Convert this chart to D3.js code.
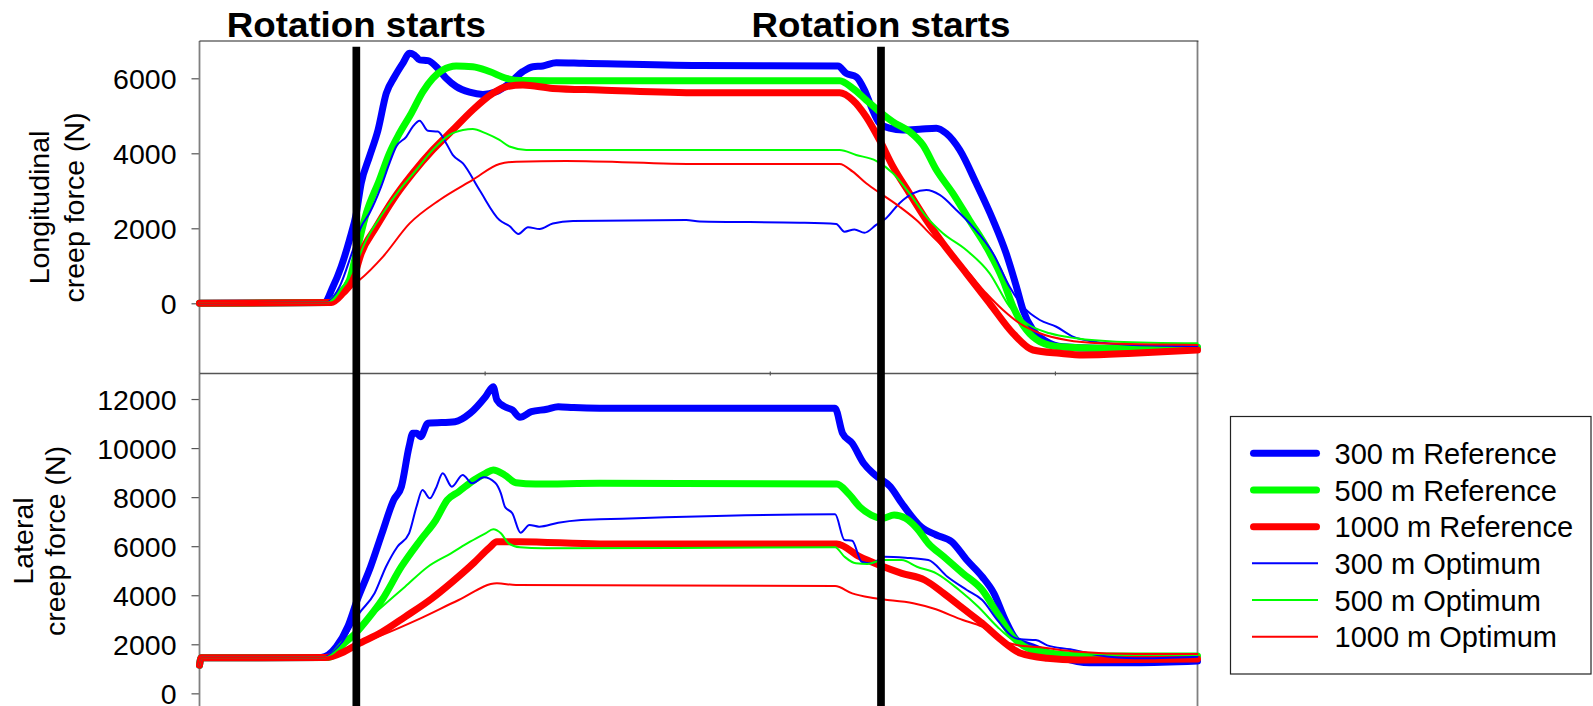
<!DOCTYPE html>
<html>
<head>
<meta charset="utf-8">
<script src="https://cdn.jsdelivr.net/npm/d3@7"></script>
<style>
  html, body { margin: 0; padding: 0; background: #fff; }
  svg { display: block; font-family: "Liberation Sans", Arial, sans-serif; }
</style>
</head>
<body>
<svg id="chart" width="1593" height="706"></svg>
<script>
// ---- Data: creep forces (N) against position along the run ----
const seriesNames = ["300 m Reference", "500 m Reference", "1000 m Reference",
                     "300 m Optimum", "500 m Optimum", "1000 m Optimum"];
const seriesColors = ["#0000ff", "#00ff00", "#ff0000", "#0000ff", "#00ff00", "#ff0000"];
const seriesThick = [true, true, true, false, false, false];
const rotationStarts = [5.5, 23.9];
const longTicks = [0, 2000, 4000, 6000];
const latTicks = [0, 2000, 4000, 6000, 8000, 10000, 12000];
const xTicks = [10, 20, 30];

// Longitudinal creep force
const long300Ref = [[0,0],[4.38,20],[4.68,440],[4.97,980],[5.26,1690],[5.5,2400],[5.67,3200],[5.96,3910],[6.26,4620],[6.55,5600],[6.84,6040],[7.13,6400],[7.37,6670],[7.54,6620],[7.72,6490],[8.01,6470],[8.3,6310],[8.65,6000],[9.0,5780],[9.47,5630],[9.94,5570],[10.4,5640],[10.87,5870],[11.34,6180],[11.69,6310],[12.04,6330],[12.51,6415],[13.45,6400],[17.54,6340],[22.39,6330],[22.68,6130],[23.03,6040],[23.32,5690],[23.56,5240],[23.85,4800],[24.2,4670],[24.67,4620],[25.25,4640],[25.84,4670],[26.19,4530],[26.66,4090],[27.24,3200],[27.83,2220],[28.29,1330],[28.65,440],[28.88,-180],[29.23,-710],[29.7,-1020],[30.28,-1160],[31.5,-1200],[35,-1190]];
const long500Ref = [[0,0],[4.56,20],[4.91,270],[5.26,620],[5.55,1510],[5.85,2400],[6.31,3290],[6.66,4000],[7.01,4530],[7.43,5070],[7.83,5640],[8.18,6000],[8.53,6220],[9.0,6330],[9.58,6310],[10.17,6180],[10.76,6000],[11.22,5940],[12.28,5936],[22.45,5936],[22.91,5730],[23.38,5420],[23.85,5110],[24.32,4840],[24.9,4580],[25.37,4220],[25.84,3560],[26.42,2930],[27.0,2220],[27.59,1510],[28.18,620],[28.53,-90],[29.0,-710],[29.47,-1020],[30.17,-1160],[31.57,-1200],[35,-1170]];
const long1000Ref = [[0,0],[4.62,20],[5.03,270],[5.38,620],[5.67,1330],[6.2,2040],[6.78,2755],[7.48,3470],[8.18,4090],[8.88,4620],[9.58,5155],[10.29,5600],[10.76,5776],[11.34,5820],[12.39,5730],[14.03,5690],[17.54,5616],[22.45,5616],[22.91,5420],[23.38,4976],[23.85,4355],[24.32,3643],[24.9,2933],[25.49,2221],[26.07,1600],[26.89,800],[27.71,0],[28.53,-800],[29.23,-1245],[30.17,-1333],[30.98,-1379],[32.74,-1333],[35,-1245]];
const long300Opt = [[0,0],[4.44,20],[4.91,440],[5.38,1420],[5.67,2040],[5.96,2400],[6.37,3110],[6.66,3730],[6.9,4180],[7.25,4440],[7.48,4710],[7.72,4870],[8.01,4600],[8.36,4580],[8.65,4270],[8.88,3960],[9.24,3730],[9.82,3020],[10.52,2220],[10.87,2060],[11.19,1850],[11.52,2030],[11.93,1980],[12.39,2130],[13.1,2195],[17.07,2220],[17.54,2180],[21.05,2150],[22.33,2115],[22.62,1910],[22.97,1970],[23.32,1880],[23.73,2090],[24.08,2270],[24.55,2670],[25.02,2930],[25.49,3020],[25.96,2890],[26.54,2490],[27.12,2040],[27.83,1330],[28.41,440],[28.88,-90],[29.47,-445],[30.05,-625],[30.63,-890],[31.33,-1020],[32.74,-1110],[35,-1140]];
const long500Opt = [[0,0],[4.5,20],[5.03,440],[5.44,980],[5.85,1690],[6.43,2400],[7.01,3020],[7.6,3555],[8.18,4090],[8.77,4490],[9.24,4620],[9.58,4650],[10.05,4530],[10.52,4355],[10.87,4180],[11.46,4090],[22.45,4088],[23.03,3955],[23.73,3800],[24.32,3467],[24.9,2933],[25.49,2310],[26.07,1867],[26.89,1421],[27.71,800],[28.41,-90],[29.0,-533],[29.82,-800],[30.75,-933],[32.16,-1024],[35,-1067]];
const long1000Opt = [[0,0],[4.62,20],[5.15,355],[5.61,620],[6.43,1240],[7.37,2130],[8.42,2755],[9.58,3290],[10.52,3715],[11.11,3776],[12.86,3795],[17.54,3715],[22.45,3715],[22.91,3510],[23.38,3200],[23.96,2890],[24.55,2576],[25.14,2220],[25.72,1776],[26.31,1333],[26.89,888],[27.59,267],[28.18,-180],[28.76,-533],[29.47,-800],[30.4,-980],[31.57,-1067],[35,-1112]];

// Lateral creep force
const lat300Ref = [[0,1150],[0.06,1450],[4.26,1460],[4.8,1900],[5.2,2716],[5.53,3805],[6.0,5163],[6.4,6525],[6.81,7883],[7.08,8426],[7.35,10057],[7.48,10604],[7.62,10600],[7.75,10465],[8.01,11011],[8.96,11077],[9.49,11419],[10.03,12096],[10.3,12504],[10.43,11962],[10.7,11690],[10.97,11554],[11.24,11256],[11.64,11485],[12.18,11582],[12.58,11690],[13.12,11650],[14.03,11623],[22.29,11623],[22.55,10604],[22.89,10196],[23.29,9380],[23.69,8903],[24.23,8426],[24.63,7749],[25.3,6795],[25.84,6456],[26.38,6183],[26.91,5436],[27.45,4755],[27.86,4078],[28.26,2990],[28.66,2174],[29.2,1900],[30.14,1493],[31.21,1248],[32.83,1248],[35,1317]];
const lat500Ref = [[0,1150],[0.06,1450],[4.52,1460],[5.07,2040],[5.47,2447],[5.87,2990],[6.4,3805],[7.08,5163],[7.75,6252],[8.29,7068],[8.69,7883],[9.09,8222],[9.63,8699],[10.03,8972],[10.3,9107],[10.7,8903],[11.1,8589],[11.78,8536],[14.03,8565],[22.35,8536],[22.75,8157],[23.15,7610],[23.56,7271],[23.96,7137],[24.36,7271],[24.76,7137],[25.16,6729],[25.56,6117],[26.1,5571],[26.77,4894],[27.45,4213],[27.98,3263],[28.52,2308],[29.06,1835],[30.14,1562],[31.48,1521],[35,1521]];
const lat1000Ref = [[0,1150],[0.06,1450],[4.4,1460],[5.07,1697],[5.53,1990],[6.4,2500],[7.21,3120],[8.15,3870],[8.82,4500],[9.63,5330],[10.16,5930],[10.43,6183],[11.24,6183],[14.03,6089],[22.35,6089],[23.15,5571],[23.83,5232],[24.63,4894],[25.43,4621],[26.1,4078],[26.77,3467],[27.45,2855],[28.12,2174],[28.8,1631],[29.73,1427],[30.81,1358],[35,1400]];
const lat300Opt = [[0,1150],[0.06,1450],[4.3,1460],[4.93,1970],[5.6,3263],[6.14,4078],[6.54,5163],[6.94,5979],[7.35,6525],[7.61,7610],[7.82,8291],[8.08,7952],[8.29,8361],[8.53,8972],[8.85,8426],[9.23,8903],[9.56,8565],[9.97,8809],[10.37,8589],[10.57,8157],[10.71,7610],[10.97,7341],[11.26,6550],[11.57,6864],[11.91,6795],[12.58,6958],[13.39,7068],[14.03,7096],[22.29,7300],[22.62,6252],[22.89,6224],[23.22,5367],[23.56,5300],[24.03,5571],[24.76,5530],[25.56,5436],[26.23,4755],[26.91,4213],[27.45,3805],[27.98,2990],[28.52,2308],[28.8,2202],[29.33,2174],[29.73,1958],[30.54,1794],[31.48,1562],[32.83,1427],[35,1493]];
const lat500Opt = [[0,1150],[0.06,1450],[4.4,1460],[5.07,2040],[5.74,2855],[6.4,3532],[7.21,4348],[8.01,5163],[8.82,5710],[9.49,6183],[10.03,6525],[10.3,6688],[10.57,6525],[10.84,6117],[11.24,5954],[12.04,5913],[22.29,5954],[22.62,5571],[23.02,5300],[23.42,5273],[23.96,5436],[24.63,5436],[25.16,5163],[25.84,4894],[26.64,4213],[27.31,3532],[27.98,2716],[28.52,2174],[29.2,1900],[30.14,1697],[31.48,1603],[35,1562]];
const lat1000Opt = [[0,1150],[0.06,1450],[4.4,1460],[5.46,1970],[6.4,2378],[7.75,3059],[9.09,3805],[10.43,4486],[11.1,4417],[22.29,4376],[22.89,4078],[23.69,3874],[25.03,3670],[25.71,3467],[26.77,2990],[27.45,2716],[28.12,2174],[28.66,1970],[29.47,1876],[30.81,1697],[32.83,1603],[35,1603]];

const longSeries = [long300Ref, long500Ref, long1000Ref, long300Opt, long500Opt, long1000Opt];
const latSeries = [lat300Ref, lat500Ref, lat1000Ref, lat300Opt, lat500Opt, lat1000Opt];

// ---- Layout ----
const svg = d3.select("#chart");
const FONT = 28.5;
const left = 199.5, right = 1197.5;
const topPanel = { top: 41, bottom: 373.5 };
const botPanel = { top: 373.5, bottom: 706 };

const x = d3.scaleLinear().domain([0, 35]).range([left, right]);
const yLong = d3.scaleLinear().domain([-2000, 7000]).range([378.3, 40.8]);
const yLat = d3.scaleLinear().domain([-2000, 13000]).range([742.4, 374.5]);

svg.append("rect").attr("width", 1593).attr("height", 706).attr("fill", "#fff");

function drawPanel(panel, y, ticks, data, labelLines, labelCenterY, labelBaselines) {
  const g = svg.append("g");
  // right side of the plot frame
  g.append("line").attr("x1", right).attr("x2", right)
    .attr("y1", panel.top).attr("y2", panel.bottom)
    .attr("stroke", "#808080").attr("stroke-width", 1.8);

  // y axis
  const axis = d3.axisLeft(y).tickValues(ticks).tickSizeInner(8).tickSizeOuter(0)
    .tickPadding(15).tickFormat(d3.format("d"));
  const ag = g.append("g").attr("transform", `translate(${left},0)`).call(axis);
  ag.select(".domain").remove();
  ag.append("line").attr("x1", 0).attr("x2", 0)
    .attr("y1", panel.top).attr("y2", panel.bottom)
    .attr("stroke", "#808080").attr("stroke-width", 1.8);
  ag.selectAll(".tick line").attr("stroke", "#555").attr("stroke-width", 1.2);
  ag.selectAll(".tick text")
    .attr("font-size", FONT).attr("fill", "#000")
    .attr("font-family", "'Liberation Sans', Arial, sans-serif")
    .attr("dy", "0.37em");

  // y axis title, rotated, two lines
  const t = g.append("text")
    .attr("transform", `translate(0,${labelCenterY}) rotate(-90)`)
    .attr("text-anchor", "middle").attr("font-size", FONT).attr("fill", "#000");
  labelLines.forEach((s, i) => {
    t.append("tspan").attr("x", 0).attr("y", labelBaselines[i]).text(s);
  });

  // series
  const line = d3.line().x(d => x(d[0])).y(d => y(d[1])).curve(d3.curveMonotoneX);
  data.forEach((pts, i) => {
    g.append("path").datum(pts).attr("d", line)
      .attr("fill", "none")
      .attr("stroke", seriesColors[i])
      .attr("stroke-width", seriesThick[i] ? 7 : 2)
      .attr("stroke-linecap", "round")
      .attr("stroke-linejoin", "round");
  });
  return g;
}

drawPanel(topPanel, yLong, longTicks, longSeries,
  ["Longitudinal", "creep force (N)"], 207.5, [49, 84]);
drawPanel(botPanel, yLat, latTicks, latSeries,
  ["Lateral", "creep force (N)"], 541, [33.4, 64.5]);

// top border and panel separator
svg.append("line").attr("x1", left).attr("x2", right + 0.9)
  .attr("y1", topPanel.top).attr("y2", topPanel.top)
  .attr("stroke", "#222").attr("stroke-width", 1.2);
svg.append("line").attr("x1", left).attr("x2", right + 0.9)
  .attr("y1", topPanel.bottom).attr("y2", topPanel.bottom)
  .attr("stroke", "#555").attr("stroke-width", 1.5);

// category ticks on the separator
const xAxis = d3.axisBottom(x).tickValues(xTicks).tickSize(4).tickFormat("");
const xg = svg.append("g").attr("transform", `translate(0,${topPanel.bottom - 2})`).call(xAxis);
xg.select(".domain").remove();
xg.selectAll(".tick line").attr("stroke", "#555").attr("stroke-width", 1.2);

// rotation start markers
rotationStarts.forEach(r => {
  svg.append("line").attr("x1", x(r)).attr("x2", x(r))
    .attr("y1", 46.7).attr("y2", 720)
    .attr("stroke", "#000").attr("stroke-width", 7.7);
  svg.append("text").attr("x", x(r)).attr("y", 37.3)
    .attr("text-anchor", "middle").attr("font-size", 35).attr("font-weight", "bold")
    .attr("textLength", 259).attr("lengthAdjust", "spacingAndGlyphs")
    .attr("fill", "#000").text("Rotation starts");
});

// legend
const lg = svg.append("g");
lg.append("rect").attr("x", 1230.5).attr("y", 416.5).attr("width", 360.5).attr("height", 257.5)
  .attr("fill", "#fff").attr("stroke", "#222").attr("stroke-width", 1.2);
seriesNames.forEach((name, i) => {
  const yy = 453.3 + i * 36.67;
  const thick = seriesThick[i];
  lg.append("line")
    .attr("x1", thick ? 1253.5 : 1252).attr("x2", thick ? 1316.5 : 1318)
    .attr("y1", yy).attr("y2", yy)
    .attr("stroke", seriesColors[i]).attr("stroke-width", thick ? 7 : 2)
    .attr("stroke-linecap", thick ? "round" : "butt");
  lg.append("text").attr("x", 1334.5).attr("y", yy).attr("dy", "0.37em")
    .attr("font-size", 29).attr("fill", "#000").text(name);
});
</script>
</body>
</html>
